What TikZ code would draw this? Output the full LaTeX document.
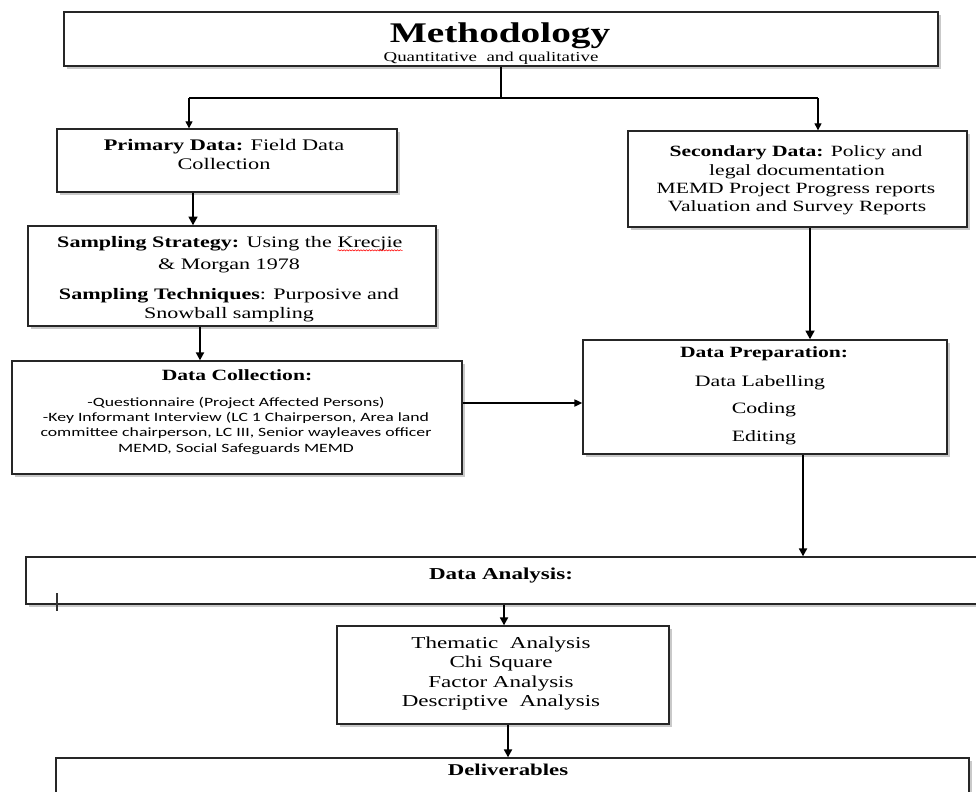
\documentclass[tikz,border=0pt]{standalone}
\usepackage{fontspec}
\setmainfont{Liberation Serif}[FakeStretch=1.38]
\newfontfamily\calib{Carlito}[FakeStretch=1.4]
\usetikzlibrary{arrows.meta,shadows,fit,decorations.pathmorphing}

\newcommand{\spellmark}[1]{\tikz[baseline=(w.base)]{\node[inner sep=0pt,outer sep=0pt](w){#1};\draw[red,line width=0.3pt,decorate,decoration={snake,amplitude=0.35pt,segment length=1.6pt}]([yshift=-1.5pt]w.base west)--([yshift=-1.5pt]w.base east);}}

\tikzset{
  box/.style={draw=black!85, line width=0.75pt, fill=white, inner sep=0pt,
    drop shadow={shadow xshift=1.6pt, shadow yshift=-1.6pt, opacity=0.3, fill=black!70}},
  thinline/.style={draw=black, line width=0.6pt},
  thinarrow/.style={thinline, -{Triangle[length=4pt,width=4pt]}},
  horarrow/.style={draw=black, line width=0.9pt, -{Triangle[length=4.5pt,width=4pt]}},
  midarrow/.style={draw=black, line width=1.1pt, -{Triangle[length=4.5pt,width=4.5pt]}},
  thickarrow/.style={draw=black, line width=1.6pt, -{Triangle[length=5pt,width=5pt]}},
  txt/.style={inner sep=0pt, anchor=base, text=black},
}

\begin{document}
\begin{tikzpicture}[x=0.02cm, y=-0.02cm]
\useasboundingbox (0,0) rectangle (976,791);

% boxes
\node[box, fit={(64,12) (938,66)}] (meth) {};
\node[box, fit={(57,129) (397,192)}] (prim) {};
\node[box, fit={(28,226) (436,326)}] (samp) {};
\node[box, fit={(12,361) (462,474)}] (coll) {};
\node[box, fit={(628,131) (967,227)}] (sec) {};
\node[box, fit={(583,340) (947,454)}] (prep) {};
\node[box, fit={(26,557) (990,604)}] (ana) {};
\node[box, fit={(337,626) (669,724)}] (them) {};
\node[box, fit={(56,758) (969,810)}] (deliv) {};

% texts
\node[txt, font=\bfseries\fontsize{16.2}{18}\selectfont] (mt1) at (500,42) {Methodology};
\node[txt, font=\fontsize{7.8}{9}\selectfont] (mt2) at (491,61) {Quantitative\ \ and qualitative};

\node[txt, font=\fontsize{9.2}{11}\selectfont] (pt1) at (224,150.7) {\textbf{Primary Data:} Field Data};
\node[txt, font=\fontsize{9.2}{11}\selectfont] (pt2) at (224,169.3) {Collection};

\node[txt, font=\fontsize{9.1}{11}\selectfont] (st1) at (230,247.7) {\textbf{Sampling Strategy:} Using the \spellmark{Krecjie}};
\node[txt, font=\fontsize{9.1}{11}\selectfont] (st2) at (229,269) {\& Morgan 1978};
\node[txt, font=\fontsize{9.1}{11}\selectfont] (st3) at (229,299) {\textbf{Sampling Techniques}: Purposive and};
\node[txt, font=\fontsize{9.1}{11}\selectfont] (st4) at (229,318.3) {Snowball sampling};

\node[txt, font=\fontsize{8.9}{10}\selectfont] (se1) at (796,156.7) {\textbf{Secondary Data:} Policy and};
\node[txt, font=\fontsize{8.9}{10}\selectfont] (se2) at (797,175) {legal documentation};
\node[txt, font=\fontsize{8.9}{10}\selectfont] (se3) at (796,193.3) {MEMD Project Progress reports};
\node[txt, font=\fontsize{8.9}{10}\selectfont] (se4) at (797,211.7) {Valuation and Survey Reports};

\node[txt, font=\bfseries\fontsize{8.9}{10}\selectfont] (ct0) at (237,380) {Data Collection:};
\node[txt, font=\calib\fontsize{7.2}{8.8}\selectfont] (ct1) at (236,406) {-Questionnaire (Project Affected Persons)};
\node[txt, font=\calib\fontsize{7.2}{8.8}\selectfont] (ct2) at (236,421.7) {-Key Informant Interview (LC 1 Chairperson, Area land};
\node[txt, font=\calib\fontsize{7.2}{8.8}\selectfont] (ct3) at (236,436.7) {committee chairperson, LC III, Senior wayleaves officer};
\node[txt, font=\calib\fontsize{7.2}{8.8}\selectfont] (ct4) at (236,452.7) {MEMD, Social Safeguards MEMD};

\node[txt, font=\bfseries\fontsize{8.9}{10}\selectfont] (dp0) at (764,357.3) {Data Preparation:};
\node[txt, font=\fontsize{9}{10}\selectfont] (dp1) at (760,386) {Data Labelling};
\node[txt, font=\fontsize{9}{10}\selectfont] (dp2) at (764,413.3) {Coding};
\node[txt, font=\fontsize{9}{10}\selectfont] (dp3) at (764,441.7) {Editing};

\node[txt, font=\bfseries\fontsize{9.5}{11}\selectfont] (at0) at (501,579) {Data Analysis:};

\node[txt, font=\fontsize{9.5}{11}\selectfont] (th1) at (501,648.3) {Thematic\ \ Analysis};
\node[txt, font=\fontsize{9.5}{11}\selectfont] (th2) at (501,667.7) {Chi Square};
\node[txt, font=\fontsize{9.5}{11}\selectfont] (th3) at (501,687.3) {Factor Analysis};
\node[txt, font=\fontsize{9.5}{11}\selectfont] (th4) at (501,706.7) {Descriptive\ \ Analysis};

\node[txt, font=\bfseries\fontsize{9.4}{11}\selectfont] (dl0) at (508,775) {Deliverables};

% cursor mark
\draw[black!80, line width=0.6pt] (57,593) -- (57,611);

% connectors
\coordinate (jl) at (189,98);
\coordinate (jr) at (818,98);
\draw[thinline] (meth.south) -- (meth.south |- jl);
\draw[thinline] (jl) -- (jr);
\draw[thinarrow] (jl) -- (jl |- prim.north);
\draw[thinarrow] (jr) -- (jr |- sec.north);

\coordinate (c1) at (193,0);
\draw[thickarrow] (c1 |- prim.south) -- (c1 |- samp.north);
\coordinate (c2) at (200,0);
\draw[midarrow] (c2 |- samp.south) -- (c2 |- coll.north);
\coordinate (c3) at (0,403);
\draw[horarrow] (coll.east |- c3) -- (prep.west |- c3);
\coordinate (c4) at (810,0);
\draw[thickarrow] (c4 |- sec.south) -- (c4 |- prep.north);
\coordinate (c5) at (803,0);
\draw[midarrow] (c5 |- prep.south) -- (c5 |- ana.north);
\coordinate (c6) at (504,0);
\draw[midarrow] (c6 |- ana.south) -- (c6 |- them.north);
\coordinate (c7) at (508,0);
\draw[midarrow] (c7 |- them.south) -- (c7 |- deliv.north);
\end{tikzpicture}
\end{document}
